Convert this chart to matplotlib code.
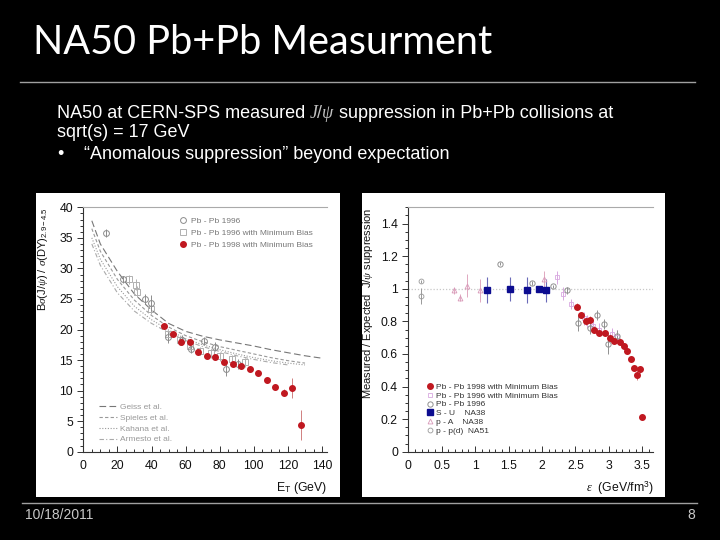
import numpy as np
import matplotlib.pyplot as plt
from matplotlib.patches import Rectangle
from matplotlib.lines import Line2D
from matplotlib.ticker import MultipleLocator, FuncFormatter

plt.rcParams['font.family'] = ['Liberation Sans', 'DejaVu Sans']
plt.rcParams['mathtext.fontset'] = 'custom'
plt.rcParams['mathtext.rm'] = 'Liberation Sans'
plt.rcParams['mathtext.it'] = 'Liberation Serif:italic'

# ---- left plot: J/psi / DY vs E_T ----
et_98 = [47.5, 52.5, 57.5, 62.5, 67.5, 72.5, 77.5, 82.5, 87.5, 92.5,
         97.5, 102.5, 107.5, 112.5, 117.5, 122.5, 127.5]
ratio_98 = [20.6, 19.2, 17.95, 17.95, 16.3, 15.7, 15.5, 14.7, 14.3, 14.0,
            13.5, 12.9, 11.7, 10.55, 9.65, 10.45, 4.4]
err_98 = [0.4, 0.4, 0.4, 0.4, 0.4, 0.4, 0.4, 0.4, 0.4, 0.4,
          0.4, 0.4, 0.5, 0.5, 0.6, 1.6, 2.5]

et_96 = [13.5, 23.5, 36, 39.5, 49.5, 58, 63, 70.5, 77.5, 83.5, 90.5]
ratio_96 = [35.8, 28.2, 25.0, 24.3, 18.7, 18.3, 16.8, 18.1, 17.2, 13.6, 14.4]
err_96 = [0.6, 0.6, 0.8, 1.3, 0.9, 0.8, 0.7, 0.7, 0.8, 1.2, 0.8]

et_96mb = [27, 31, 31.5, 39.5, 49.5, 56.5, 62.5, 68.5, 75, 80, 87, 95]
ratio_96mb = [28.2, 27.3, 26.2, 23.3, 19.2, 18.2, 17.3, 16.5, 16.1, 15.6, 15.2, 14.6]
err_96mb = [0.8, 0.9, 0.9, 0.8, 0.8, 0.7, 0.7, 0.7, 0.7, 0.7, 0.7, 0.7]

curve_et = [5, 10, 20, 30, 40, 50, 60, 70, 80, 90, 100, 110, 120, 130, 140]
geiss = [37.8, 34.0, 29.5, 25.8, 23.2, 21.0, 19.7, 18.9, 18.3, 17.8, 17.3, 16.7, 16.2, 15.7, 15.3]
spieles = [36.5, 32.8, 28.2, 24.8, 22.3, 20.4, 19.0, 18.0, 17.2, 16.6, 16.0, 15.4, 14.9, 14.5]
kahana = [35.0, 31.5, 27.0, 23.8, 21.6, 19.9, 18.5, 17.5, 16.7, 16.0, 15.4, 14.9, 14.5, 14.2]
armesto = [34.0, 30.5, 26.0, 23.0, 21.0, 19.5, 18.2, 17.2, 16.4, 15.7, 15.1, 14.6, 14.2]

# ---- right plot: measured / expected vs energy density ----
eps_98 = [2.53, 2.59, 2.66, 2.72, 2.78, 2.85, 2.94, 3.02, 3.08, 3.16,
          3.22, 3.27, 3.33, 3.37, 3.42, 3.46, 3.49]
supp_98 = [0.89, 0.84, 0.80, 0.81, 0.75, 0.73, 0.73, 0.70, 0.68, 0.675,
           0.65, 0.62, 0.57, 0.515, 0.47, 0.505, 0.21]
supp_98_err = [0.02] * 14 + [0.03, 0.02, 0.01]

eps_96mb = [2.22, 2.31, 2.44, 2.63, 2.68, 2.76, 2.86, 3.05, 3.12]
supp_96mb = [1.07, 0.97, 0.905, 0.82, 0.80, 0.77, 0.75, 0.72, 0.705]
supp_96mb_err = [0.04, 0.04, 0.03, 0.04, 0.04, 0.04, 0.04, 0.04, 0.04]

eps_96 = [1.37, 1.85, 2.16, 2.38, 2.54, 2.72, 2.83, 2.93, 2.98, 3.12]
supp_96 = [1.155, 1.035, 1.015, 0.99, 0.79, 0.76, 0.84, 0.785, 0.66, 0.71]
supp_96_err = [0.01, 0.01, 0.01, 0.02, 0.05, 0.04, 0.03, 0.03, 0.06, 0.04]

eps_su = [1.17, 1.52, 1.78, 1.95, 2.06]
supp_su = [0.99, 1.0, 0.99, 1.0, 0.99]
supp_su_err = [0.08, 0.075, 0.08, 0.01, 0.07]

eps_pa = [0.69, 0.78, 0.88, 1.07, 2.03]
supp_pa = [0.99, 0.945, 1.02, 0.99, 1.06]
supp_pa_err = [0.02, 0.02, 0.07, 0.07, 0.05]

eps_pp = [0.19, 0.19]
supp_pp = [0.955, 1.045]
supp_pp_err = [0.05, 0.01]

W, H = 720, 540
fig = plt.figure(figsize=(7.2, 5.4), dpi=100, facecolor='black')


def fig_rect(x0, y0, x1, y1):
    return [x0 / W, 1 - y1 / H, (x1 - x0) / W, (y1 - y0) / H]


# white panels behind the plots
for x0, x1 in [(36, 340), (362, 665)]:
    l, b, w, h = fig_rect(x0, 193, x1, 497)
    fig.patches.append(Rectangle((l, b), w, h, transform=fig.transFigure,
                                 facecolor='white', edgecolor='none', zorder=-1))

# slide decorations
fig.add_artist(Line2D([20 / W, 695 / W], [1 - 81.5 / H] * 2, color='#a0a0a0', lw=1))
fig.add_artist(Line2D([22 / W, 697 / W], [1 - 502.5 / H] * 2, color='#a0a0a0', lw=1))

fig.text(33 / W, 1 - 43 / H, 'NA50 Pb+Pb Measurment', color='white', fontsize=28.5,
         family=['Lato', 'DejaVu Sans'], va='center', ha='left')

body_size = 13
r = fig.canvas.get_renderer()
t1 = fig.text(57 / W, 1 - 113 / H, 'NA50 at CERN-SPS measured', color='white',
              fontsize=body_size, va='center')
bb = t1.get_window_extent(r)
t2 = fig.text((bb.x1 + 4) / W, 1 - 113 / H, r'$J/\psi$', color='#c0c0c0',
              fontsize=body_size, va='center')
bb = t2.get_window_extent(r)
fig.text((bb.x1 + 3) / W, 1 - 113 / H, 'suppression in Pb+Pb collisions at',
         color='white', fontsize=body_size, va='center')
fig.text(57 / W, 1 - 133 / H, 'sqrt(s) = 17 GeV', color='white', fontsize=body_size, va='center')
fig.text(57 / W, 1 - 155 / H, '\u2022', color='white', fontsize=body_size, va='center')
fig.text(84 / W, 1 - 155 / H, '\u201cAnomalous suppression\u201d beyond expectation',
         color='white', fontsize=body_size, va='center')

fig.text(25 / W, 1 - 515 / H, '10/18/2011', color='#c8c8c8', fontsize=10, va='center')
fig.text(691 / W, 1 - 515 / H, '8', color='#c8c8c8', fontsize=10, va='center', ha='center')


def style_axes(ax):
    for s in ['left', 'bottom']:
        ax.spines[s].set_color('#333333')
        ax.spines[s].set_linewidth(0.8)
    ax.spines['top'].set_color('#aaaaaa')
    ax.spines['top'].set_linewidth(0.8)
    ax.spines['right'].set_visible(False)
    ax.tick_params(axis='y', which='both', direction='out', colors='#333333',
                   labelsize=8.8, labelcolor='#111111', width=0.7)
    ax.tick_params(axis='x', which='both', direction='in', colors='#333333',
                   labelsize=8.8, labelcolor='#111111', width=0.7, pad=6)
    ax.tick_params(which='major', length=4)
    ax.tick_params(which='minor', length=2)
    ax.set_facecolor('white')


grey = '#8c8c8c'
red = '#c01820'

# ---- left axes ----
ax1 = fig.add_axes(fig_rect(83.3, 207.3, 327, 451.7))
style_axes(ax1)
ax1.set_xlim(0, 142.9)
ax1.set_ylim(0, 40)
ax1.xaxis.set_major_locator(MultipleLocator(20))
ax1.xaxis.set_minor_locator(MultipleLocator(5))
ax1.yaxis.set_major_locator(MultipleLocator(5))
ax1.yaxis.set_minor_locator(MultipleLocator(1))

l_geiss, = ax1.plot(curve_et, geiss, color='#777777', lw=0.8, ls=(0, (6, 3)))
l_spieles, = ax1.plot(curve_et[:len(spieles)], spieles, color='#999999', lw=0.8, ls=(0, (3, 2)))
l_kahana, = ax1.plot(curve_et[:len(kahana)], kahana, color='#999999', lw=0.8, ls=(0, (1, 1.5)))
l_armesto, = ax1.plot(curve_et[:len(armesto)], armesto, color='#aaaaaa', lw=0.8, ls=(0, (4, 2, 1, 2)))

ax1.errorbar(et_96mb, ratio_96mb, yerr=err_96mb, fmt='s', ms=3.8, mfc='none', mec='#b0b0b0',
             mew=0.7, ecolor='#b0b0b0', elinewidth=0.7, capsize=0)
ax1.errorbar(et_96, ratio_96, yerr=err_96, fmt='o', ms=4.2, mfc='none', mec=grey,
             mew=0.7, ecolor=grey, elinewidth=0.7, capsize=0)
ax1.errorbar(et_98, ratio_98, yerr=err_98, fmt='o', ms=4, color=red, mec=red,
             ecolor='#d08080', elinewidth=0.7, capsize=0)

h96 = Line2D([], [], marker='o', ls='none', ms=4.2, mfc='none', mec=grey, mew=0.7)
h96mb = Line2D([], [], marker='s', ls='none', ms=3.8, mfc='none', mec='#b0b0b0', mew=0.7)
h98 = Line2D([], [], marker='o', ls='none', ms=4, color=red)
leg1 = ax1.legend([h96, h96mb, h98],
                  ['Pb - Pb 1996', 'Pb - Pb 1996 with Minimum Bias', 'Pb - Pb 1998 with Minimum Bias'],
                  loc='upper left', bbox_to_anchor=(0.38, 0.975), frameon=False,
                  fontsize=6, labelcolor='#777777', handlelength=1.0, handletextpad=0.4,
                  labelspacing=0.55, borderaxespad=0)
ax1.add_artist(leg1)
ax1.legend([l_geiss, l_spieles, l_kahana, l_armesto],
           ['Geiss et al.', 'Spieles et al.', 'Kahana et al.', 'Armesto et al.'],
           loc='lower left', bbox_to_anchor=(0.05, 0.02), frameon=False,
           fontsize=6, labelcolor='#999999', handlelength=2.2, handletextpad=0.4,
           labelspacing=0.35, borderaxespad=0)

ax1.set_ylabel(r'B$\sigma$(J/$\psi$) / $\sigma$(DY)$_{\mathrm{2.9-4.5}}$', fontsize=8,
               color='#111111', loc='top')
ax1.yaxis.set_label_coords(-0.135, 1.0)
ax1.set_xlabel(r'E$_\mathrm{T}$ (GeV)', fontsize=8.8, color='#111111', loc='right')
ax1.xaxis.set_label_coords(1.0, -0.115)

# ---- right axes ----
ax2 = fig.add_axes(fig_rect(408.3, 207.3, 653.3, 451.7))
style_axes(ax2)
ax2.set_xlim(0, 3.665)
ax2.set_ylim(0, 1.5)
ax2.xaxis.set_major_locator(MultipleLocator(0.5))
ax2.xaxis.set_minor_locator(MultipleLocator(0.1))
ax2.yaxis.set_major_locator(MultipleLocator(0.2))
ax2.yaxis.set_minor_locator(MultipleLocator(0.05))
ax2.xaxis.set_major_formatter(FuncFormatter(lambda v, p: f'{v:g}'))
ax2.yaxis.set_major_formatter(FuncFormatter(lambda v, p: f'{v:g}' if v < 1.45 else ''))

ax2.axhline(1.0, color='#c8c8c8', lw=0.9, ls=(0, (1, 1.5)))

e_pp = ax2.errorbar(eps_pp, supp_pp, yerr=supp_pp_err, fmt='o', ms=3.5, mfc='none', mec='#999999',
                    mew=0.6, ecolor='#999999', elinewidth=0.7, capsize=0)
e_pa = ax2.errorbar(eps_pa, supp_pa, yerr=supp_pa_err, fmt='^', ms=3.5, mfc='none', mec='#d898b8',
                    mew=0.6, ecolor='#e0a8c0', elinewidth=0.7, capsize=0)
e_96mb = ax2.errorbar(eps_96mb, supp_96mb, yerr=supp_96mb_err, fmt='s', ms=3.5, mfc='none',
                      mec='#d8a8e0', mew=0.6, ecolor='#d8a8e0', elinewidth=0.7, capsize=0)
e_96 = ax2.errorbar(eps_96, supp_96, yerr=supp_96_err, fmt='o', ms=3.8, mfc='none', mec='#909090',
                    mew=0.7, ecolor='#909090', elinewidth=0.7, capsize=0)
e_su = ax2.errorbar(eps_su, supp_su, yerr=supp_su_err, fmt='s', ms=4.2, color='#0c0c90',
                    ecolor='#6a6ab8', elinewidth=0.8, capsize=0)
e_98 = ax2.errorbar(eps_98, supp_98, yerr=supp_98_err, fmt='o', ms=4, color=red,
                    ecolor='#d08080', elinewidth=0.7, capsize=0)

ax2.legend([e_98[0], e_96mb[0], e_96[0], e_su[0], e_pa[0], e_pp[0]],
           ['Pb - Pb 1998 with Minimum Bias', 'Pb - Pb 1996 with Minimum Bias', 'Pb - Pb 1996',
            'S - U    NA38', 'p - A    NA38', 'p - p(d)  NA51'],
           loc='lower left', bbox_to_anchor=(0.06, 0.055), frameon=False,
           fontsize=6, labelcolor='#333333', handlelength=0.8, handletextpad=0.4,
           labelspacing=0.12, borderaxespad=0)

ax2.set_ylabel(r'Measured / Expected  J/$\psi$ suppression', fontsize=8,
               color='#111111', loc='top')
ax2.yaxis.set_label_coords(-0.135, 1.0)
ax2.set_xlabel(r'$\epsilon$  (GeV/fm$^3$)', fontsize=8.8, color='#111111', loc='right')
ax2.xaxis.set_label_coords(1.0, -0.115)

fig.savefig('out.png', dpi=100, facecolor='black')
